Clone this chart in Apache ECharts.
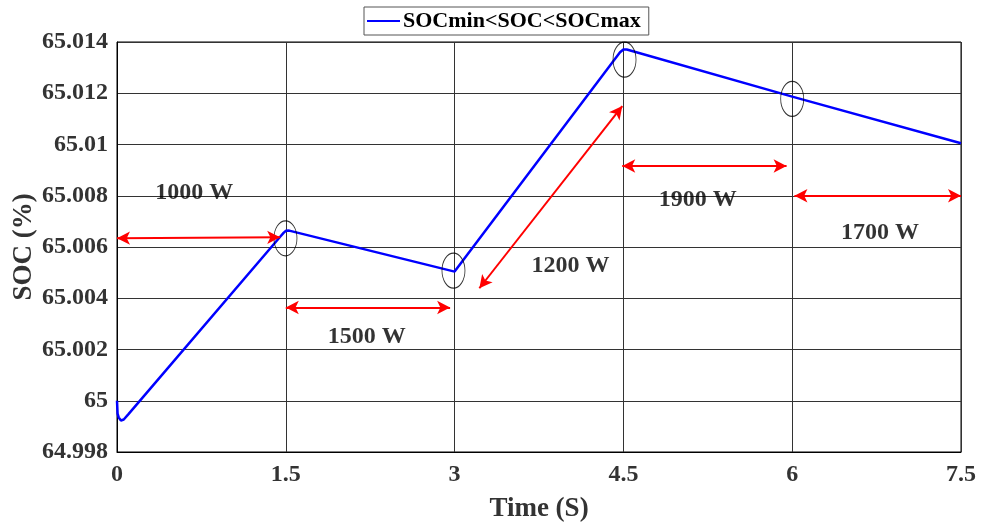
<!DOCTYPE html>
<html>
<head>
<meta charset="utf-8">
<script src="https://cdn.jsdelivr.net/npm/echarts@6/dist/echarts.min.js"></script>
<style>
  html, body { margin: 0; padding: 0; background: #fff; }
  #chart { width: 982px; height: 524px; }
</style>
</head>
<body>
<div id="chart"></div>
<script>
// SOC trace
var time = [0, 0.005, 0.015, 0.035, 0.06, 0.1, 1.45, 1.48, 1.5, 1.53, 3.0, 4.47, 4.5, 4.53, 6.0, 7.5];
var soc = [65.0, 64.9995, 64.99935, 64.99923, 64.99927, 64.99947, 65.0064, 65.00655, 65.00663, 65.00664,
           65.00504, 65.0136, 65.01371, 65.01371, 65.01187, 65.01005];

var xTicks = [0, 1.5, 3, 4.5, 6, 7.5];
var yTicks = [64.998, 65, 65.002, 65.004, 65.006, 65.008, 65.01, 65.012, 65.014];

// power annotations: [t, soc, text]
var powerLabels = [
  [0.687, 65.0081, '1000 W'],
  [2.22, 65.0025, '1500 W'],
  [4.03, 65.00527, '1200 W'],
  [5.16, 65.00785, '1900 W'],
  [6.78, 65.00655, '1700 W']
];
// double arrows: [t1, soc1, t2, soc2]
var arrows = [
  [0, 65.00634, 1.45, 65.00638],
  [1.5, 65.00364, 2.96, 65.00364],
  [3.22, 65.00439, 4.49, 65.0115],
  [4.49, 65.00916, 5.95, 65.00916],
  [6.02, 65.008, 7.5, 65.008]
];
// circled transition points
var circles = [
  [1.497, 65.00634],
  [2.99, 65.00508],
  [4.51, 65.01331],
  [6.0, 65.01178]
];

var font = 'Liberation Serif';
var myChart = echarts.init(document.getElementById('chart'));
var option;

option = {
  animation: false,
  legend: {
    data: ['SOCmin<SOC<SOCmax'],
    top: 7,
    left: 364,
    padding: [3, 8, 3, 3],
    borderColor: '#555',
    borderWidth: 1,
    itemWidth: 33,
    itemHeight: 2,
    icon: 'rect',
    textStyle: { fontFamily: font, fontWeight: 'bold', fontSize: 22, color: '#000', padding: [0, 0, 0, -2] }
  },
  grid: {
    left: 117,
    right: 21,
    top: 42,
    bottom: 72,
    containLabel: false,
    outerBoundsMode: 'none',
    show: true,
    borderColor: '#000',
    borderWidth: 1
  },
  xAxis: {
    type: 'value',
    min: xTicks[0],
    max: xTicks[xTicks.length - 1],
    interval: 1.5,
    name: 'Time (S)',
    nameLocation: 'middle',
    nameGap: 44,
    nameMoveOverlap: false,
    nameTextStyle: { fontFamily: font, fontWeight: 'bold', fontSize: 27, color: '#333' },
    axisLine: { lineStyle: { color: '#000' } },
    axisTick: { show: false },
    axisLabel: { fontFamily: font, fontWeight: 'bold', fontSize: 24, color: '#333', margin: 11,
      formatter: function (v) { return String(+v.toFixed(1)); } },
    splitLine: { show: true, lineStyle: { color: '#333', width: 1 } }
  },
  yAxis: {
    type: 'value',
    min: yTicks[0],
    max: yTicks[yTicks.length - 1],
    interval: 0.002,
    name: 'SOC (%)',
    nameLocation: 'middle',
    nameGap: 79,
    nameMoveOverlap: false,
    nameTextStyle: { fontFamily: font, fontWeight: 'bold', fontSize: 27, color: '#333' },
    axisLine: { lineStyle: { color: '#000' } },
    axisTick: { show: false },
    axisLabel: { fontFamily: font, fontWeight: 'bold', fontSize: 24, color: '#333', margin: 9,
      formatter: function (v) { return String(+v.toFixed(3)); } },
    splitLine: { show: true, lineStyle: { color: '#333', width: 1 } }
  },
  series: [
    {
      name: 'SOCmin<SOC<SOCmax',
      type: 'line',
      data: time.map(function (t, i) { return [t, soc[i]]; }),
      showSymbol: false,
      lineStyle: { color: '#0000ff', width: 2.5 },
      itemStyle: { color: '#0000ff' },
      z: 3
    },
    {
      name: 'arrows',
      type: 'line',
      data: [],
      silent: true,
      markLine: {
        silent: true,
        symbol: ['arrow', 'arrow'],
        symbolSize: [10, 13],
        label: { show: false },
        lineStyle: { color: '#ff0000', width: 2, type: 'solid' },
        emphasis: { disabled: true },
        data: arrows.map(function (a) {
          return [{ coord: [a[0], a[1]] }, { coord: [a[2], a[3]] }];
        })
      }
    },
    {
      name: 'circles',
      type: 'scatter',
      silent: true,
      symbol: 'circle',
      symbolSize: [23, 35],
      itemStyle: { color: 'rgba(0,0,0,0)', borderColor: '#000', borderWidth: 1 },
      data: circles,
      z: 4
    },
    {
      name: 'power',
      type: 'scatter',
      silent: true,
      symbolSize: 0,
      data: powerLabels,
      label: {
        show: true,
        position: 'inside',
        formatter: function (p) { return p.value[2]; },
        fontFamily: font,
        fontWeight: 'bold',
        fontSize: 24,
        color: '#000'
      },
      z: 5
    }
  ]
};
option && myChart.setOption(option);
</script>
</body>
</html>
